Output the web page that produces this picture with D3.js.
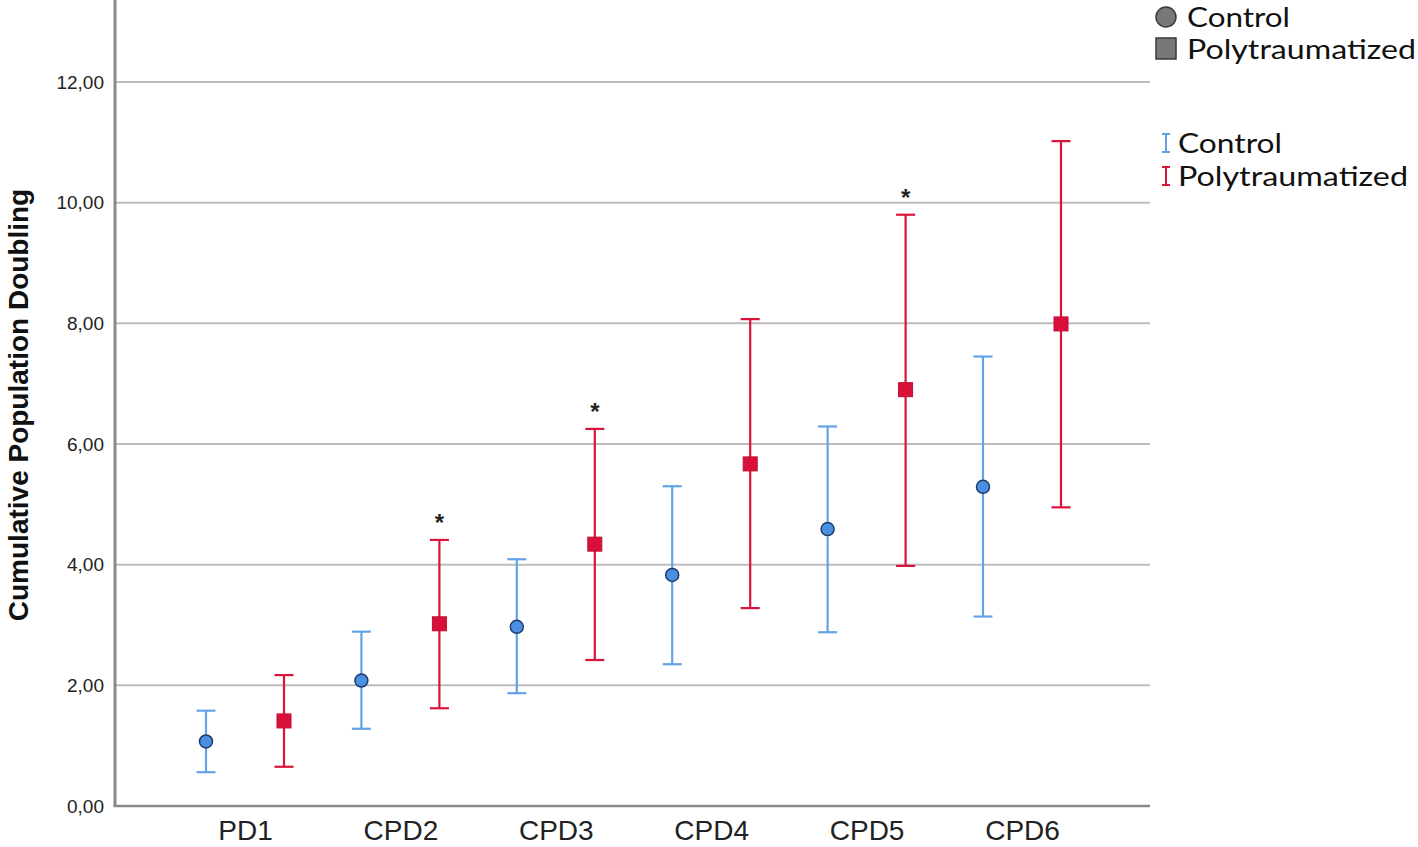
<!DOCTYPE html>
<html>
<head>
<meta charset="utf-8">
<script src="https://cdn.jsdelivr.net/npm/d3@7/dist/d3.min.js"></script>
<style>
  html, body { margin: 0; padding: 0; background: #fff; }
  svg { display: block; }
</style>
</head>
<body>
<svg id="chart" width="1418" height="847"></svg>
<script>
const categories = ["PD1", "CPD2", "CPD3", "CPD4", "CPD5", "CPD6"];
const controlMean  = [1.07, 2.08, 2.97, 3.83, 4.59, 5.29];
const controlLow   = [0.56, 1.28, 1.87, 2.35, 2.88, 3.14];
const controlHigh  = [1.58, 2.89, 4.09, 5.30, 6.29, 7.45];
const polyMean     = [1.41, 3.02, 4.34, 5.67, 6.90, 7.99];
const polyLow      = [0.65, 1.62, 2.42, 3.28, 3.98, 4.95];
const polyHigh     = [2.17, 4.41, 6.25, 8.07, 9.80, 11.02];
const significant  = [false, true, true, false, true, false];
const yTicks = [0, 2, 4, 6, 8, 10, 12];
const seriesNames = ["Control", "Polytraumatized"];

const svg = d3.select("#chart");
const plot = { left: 115, right: 1150, top: 0, bottom: 806 };

const y = d3.scaleLinear().domain([0, 12]).range([806, 82]);
const x = d3.scalePoint().domain(categories).range([245, 1022]);
const offset = 39;

const blue = "#64a2e6", red = "#d9143c";
const af = "Liberation Sans, Arial, sans-serif";

// gridlines
svg.append("g").selectAll("line").data(yTicks.filter(d => d > 0)).join("line")
  .attr("x1", plot.left).attr("x2", plot.right)
  .attr("y1", d => y(d)).attr("y2", d => y(d))
  .attr("stroke", "#bdbdbd").attr("stroke-width", 2);

// y axis
const yAxis = d3.axisLeft(y).tickValues(yTicks).tickSize(0).tickPadding(11)
  .tickFormat(d => d3.format(".2f")(d).replace(".", ","));
const gy = svg.append("g").attr("transform", `translate(${plot.left},0)`).call(yAxis);
gy.select(".domain").remove();
gy.selectAll("text").attr("font-family", af).attr("font-size", 19).attr("fill", "#222");
svg.append("line").attr("x1", plot.left).attr("x2", plot.left)
  .attr("y1", plot.top).attr("y2", plot.bottom)
  .attr("stroke", "#8a8a8a").attr("stroke-width", 3);

// x axis
const xAxis = d3.axisBottom(x).tickSize(0).tickPadding(14);
const gx = svg.append("g").attr("transform", `translate(0,${plot.bottom})`).call(xAxis);
gx.select(".domain").remove();
gx.selectAll("text").attr("font-family", af).attr("font-size", 28).attr("fill", "#222");
svg.append("line").attr("x1", plot.left - 1.5).attr("x2", plot.right)
  .attr("y1", plot.bottom).attr("y2", plot.bottom)
  .attr("stroke", "#8a8a8a").attr("stroke-width", 2.5);

// y title
svg.append("text")
  .attr("transform", "translate(28,405) rotate(-90)")
  .attr("text-anchor", "middle")
  .attr("font-family", af)
  .attr("font-weight", "bold").attr("font-size", 28).attr("fill", "#111")
  .text("Cumulative Population Doubling");

// data
const ctrl = categories.map((c, i) => ({ c, m: controlMean[i], lo: controlLow[i], hi: controlHigh[i] }));
const poly = categories.map((c, i) => ({ c, m: polyMean[i], lo: polyLow[i], hi: polyHigh[i], sig: significant[i] }));
const capW = 9.5;

function errorBars(data, dx, color) {
  const g = svg.append("g").attr("stroke", color).attr("stroke-width", 2.2);
  g.selectAll(".v").data(data).join("line")
    .attr("x1", d => x(d.c) + dx).attr("x2", d => x(d.c) + dx)
    .attr("y1", d => y(d.lo)).attr("y2", d => y(d.hi));
  g.selectAll(".t").data(data).join("line")
    .attr("x1", d => x(d.c) + dx - capW).attr("x2", d => x(d.c) + dx + capW)
    .attr("y1", d => y(d.hi)).attr("y2", d => y(d.hi));
  g.selectAll(".b").data(data).join("line")
    .attr("x1", d => x(d.c) + dx - capW).attr("x2", d => x(d.c) + dx + capW)
    .attr("y1", d => y(d.lo)).attr("y2", d => y(d.lo));
}
errorBars(ctrl, -offset, blue);
errorBars(poly, offset, red);

svg.append("g").selectAll("circle").data(ctrl).join("circle")
  .attr("cx", d => x(d.c) - offset).attr("cy", d => y(d.m)).attr("r", 6.5)
  .attr("fill", "#4a8fe0").attr("stroke", "#1c3a6e").attr("stroke-width", 1.5);

svg.append("g").selectAll("rect").data(poly).join("rect")
  .attr("x", d => x(d.c) + offset - 7).attr("y", d => y(d.m) - 7)
  .attr("width", 14).attr("height", 14)
  .attr("fill", "#d8103a").attr("stroke", "#c40a32").attr("stroke-width", 1);

svg.append("g").selectAll("text").data(poly.filter(d => d.sig)).join("text")
  .attr("x", d => x(d.c) + offset).attr("y", d => y(d.hi) - 9)
  .attr("text-anchor", "middle")
  .attr("font-family", af).attr("font-weight", "bold")
  .attr("font-size", 24).attr("fill", "#222")
  .text("*");

// legends
const lf = "Lato, Open Sans, sans-serif";
const leg1 = svg.append("g");
leg1.append("circle").attr("cx", 1166).attr("cy", 17).attr("r", 10)
  .attr("fill", "#787878").attr("stroke", "#3a3a3a").attr("stroke-width", 1.5);
leg1.append("rect").attr("x", 1156).attr("y", 38).attr("width", 20).attr("height", 21)
  .attr("fill", "#787878").attr("stroke", "#3a3a3a").attr("stroke-width", 1.5);
const leg1W = [103, 229];
leg1.selectAll("text").data(seriesNames).join("text")
  .attr("x", 1187).attr("y", (d, i) => 27 + i * 32)
  .attr("font-family", lf).attr("font-size", 26).attr("fill", "#111")
  .attr("textLength", (d, i) => leg1W[i]).attr("lengthAdjust", "spacingAndGlyphs")
  .text(d => d);

const leg2 = svg.append("g");
const legColors = [blue, red];
const leg2W = [104, 230];
seriesNames.forEach((n, i) => {
  const cy = 143 + i * 33;
  const g = leg2.append("g").attr("stroke", legColors[i]).attr("stroke-width", 2);
  g.append("line").attr("x1", 1166).attr("x2", 1166).attr("y1", cy - 9).attr("y2", cy + 9);
  g.append("line").attr("x1", 1162).attr("x2", 1170).attr("y1", cy - 9).attr("y2", cy - 9);
  g.append("line").attr("x1", 1162).attr("x2", 1170).attr("y1", cy + 9).attr("y2", cy + 9);
  leg2.append("text").attr("x", 1178).attr("y", cy + 10)
    .attr("font-family", lf).attr("font-size", 26).attr("fill", "#111")
    .attr("textLength", leg2W[i]).attr("lengthAdjust", "spacingAndGlyphs")
    .text(n);
});
</script>
</body>
</html>
